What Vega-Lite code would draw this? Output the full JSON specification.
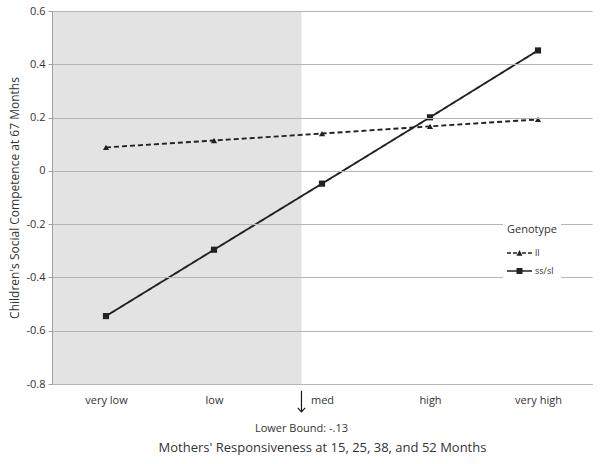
{
  "$schema": "https://vega.github.io/schema/vega-lite/v6.json",
  "width": 540,
  "height": 373,
  "autosize": {"type": "none"},
  "padding": {"left": 52, "top": 11, "right": 8, "bottom": 80},
  "background": "white",
  "config": {"view": {"stroke": null}, "font": "Open Sans"},
  "datasets": {
    "lines": [
      {"resp": 1, "genotype": "ll", "value": 0.088},
      {"resp": 2, "genotype": "ll", "value": 0.114},
      {"resp": 3, "genotype": "ll", "value": 0.140},
      {"resp": 4, "genotype": "ll", "value": 0.167},
      {"resp": 5, "genotype": "ll", "value": 0.193},
      {"resp": 1, "genotype": "ss/sl", "value": -0.545},
      {"resp": 2, "genotype": "ss/sl", "value": -0.296},
      {"resp": 3, "genotype": "ss/sl", "value": -0.048},
      {"resp": 4, "genotype": "ss/sl", "value": 0.201},
      {"resp": 5, "genotype": "ss/sl", "value": 0.452}
    ],
    "shade": [{"x0": 0.5, "x1": 2.81, "y0": -0.8, "y1": 0.6}],
    "bound": [{"x": 2.81, "label": "Lower Bound: -.13"}]
  },
  "layer": [
    {
      "data": {"name": "shade"},
      "mark": {"type": "rect", "color": "#e3e3e3"},
      "encoding": {
        "x": {
          "field": "x0", "type": "quantitative",
          "scale": {"domain": [0.5, 5.5], "nice": false, "zero": false},
          "axis": {
            "values": [1, 2, 3, 4, 5],
            "labelExpr": "['very low','low','med','high','very high'][datum.value - 1]",
            "title": "Mothers' Responsiveness at 15, 25, 38, and 52 Months",
            "grid": false, "ticks": false,
            "domainColor": "#a0a0a0",
            "labelFontSize": 11, "labelColor": "#333333", "labelPadding": 10,
            "titleFontSize": 13, "titleFontWeight": "normal", "titleColor": "#333333",
            "titlePadding": 36
          }
        },
        "x2": {"field": "x1"},
        "y": {
          "field": "y0", "type": "quantitative",
          "scale": {"domain": [-0.8, 0.6], "nice": false, "zero": false},
          "axis": {
            "values": [-0.8, -0.6, -0.4, -0.2, 0, 0.2, 0.4, 0.6],
            "labelExpr": "datum.value == 0 ? '0' : (datum.value < 0 ? '-' : '') + format(abs(datum.value), '.1f')",
            "title": "Children's Social Competence at 67 Months",
            "grid": true, "gridColor": "#b5b5b5",
            "domainColor": "#a0a0a0", "tickColor": "#a0a0a0", "tickSize": 4,
            "labelFontSize": 11, "labelColor": "#333333", "labelPadding": 3,
            "titleFontSize": 12, "titleFontWeight": "normal", "titleColor": "#333333",
            "titlePadding": 4,
            "zindex": 1
          }
        },
        "y2": {"field": "y1"}
      }
    },
    {
      "data": {"name": "lines"},
      "mark": {"type": "line", "color": "#222222", "strokeWidth": 1.9},
      "encoding": {
        "x": {"field": "resp", "type": "quantitative"},
        "y": {"field": "value", "type": "quantitative"},
        "strokeDash": {
          "field": "genotype", "type": "nominal",
          "scale": {"domain": ["ll", "ss/sl"], "range": [[5, 3], [1, 0]]}
        }
      }
    },
    {
      "data": {"name": "lines"},
      "transform": [{"filter": "datum.genotype == 'll'"}],
      "mark": {"type": "point", "shape": "triangle-up", "filled": true, "color": "#222222", "size": 38, "opacity": 1},
      "encoding": {
        "x": {"field": "resp", "type": "quantitative"},
        "y": {"field": "value", "type": "quantitative"}
      }
    },
    {
      "data": {"name": "lines"},
      "transform": [{"filter": "datum.genotype == 'ss/sl'"}],
      "mark": {"type": "point", "shape": "square", "filled": true, "color": "#222222", "size": 38, "opacity": 1},
      "encoding": {
        "x": {"field": "resp", "type": "quantitative"},
        "y": {"field": "value", "type": "quantitative"}
      }
    },
    {
      "data": {"name": "lines"},
      "transform": [{"filter": "false"}],
      "mark": {"type": "point", "filled": true, "color": "#222222", "opacity": 1, "size": 100},
      "encoding": {
        "x": {"field": "resp", "type": "quantitative"},
        "y": {"field": "value", "type": "quantitative"},
        "shape": {
          "field": "genotype", "type": "nominal",
          "scale": {
            "domain": ["ll", "ss/sl"],
            "range": [
              "M-1,-0.16L-0.2,-0.16L-0.2,0.16L-1,0.16ZM0.2,-0.16L1,-0.16L1,0.16L0.2,0.16ZM0.9,0.55L1.5,-0.6L2.1,0.55ZM2,-0.16L2.8,-0.16L2.8,0.16L2,0.16ZM3.2,-0.16L4,-0.16L4,0.16L3.2,0.16Z",
              "M-1,-0.16L4,-0.16L4,0.16L-1,0.16ZM0.9,-0.6L2.1,-0.6L2.1,0.6L0.9,0.6Z"
            ]
          },
          "legend": {
            "orient": "none", "legendX": 451, "legendY": 209,
            "zindex": 3,
            "title": "Genotype", "titleFontSize": 11, "titleFontWeight": "normal", "titleColor": "#333333",
            "labelFontSize": 9, "labelColor": "#333333",
            "fillColor": "white", "padding": 4,
            "symbolSize": 100, "symbolStrokeWidth": 0,
            "symbolFillColor": "#222222", "symbolOpacity": 1,
            "labelOffset": 18, "rowPadding": 8, "titlePadding": 13
          }
        }
      }
    },
    {
      "data": {"name": "bound"},
      "mark": {"type": "point", "shape": "M0,-1L0,1M-0.35,0.62L0,1L0.35,0.62", "size": 441, "filled": false, "color": "#1a1a1a", "strokeWidth": 1.2, "opacity": 1},
      "encoding": {
        "x": {"field": "x", "type": "quantitative"},
        "y": {"datum": -0.865}
      }
    },
    {
      "data": {"name": "bound"},
      "mark": {"type": "text", "fontSize": 11, "color": "#333333", "dy": 45, "baseline": "middle"},
      "encoding": {
        "x": {"field": "x", "type": "quantitative"},
        "y": {"datum": -0.8},
        "text": {"field": "label"}
      }
    }
  ]
}
